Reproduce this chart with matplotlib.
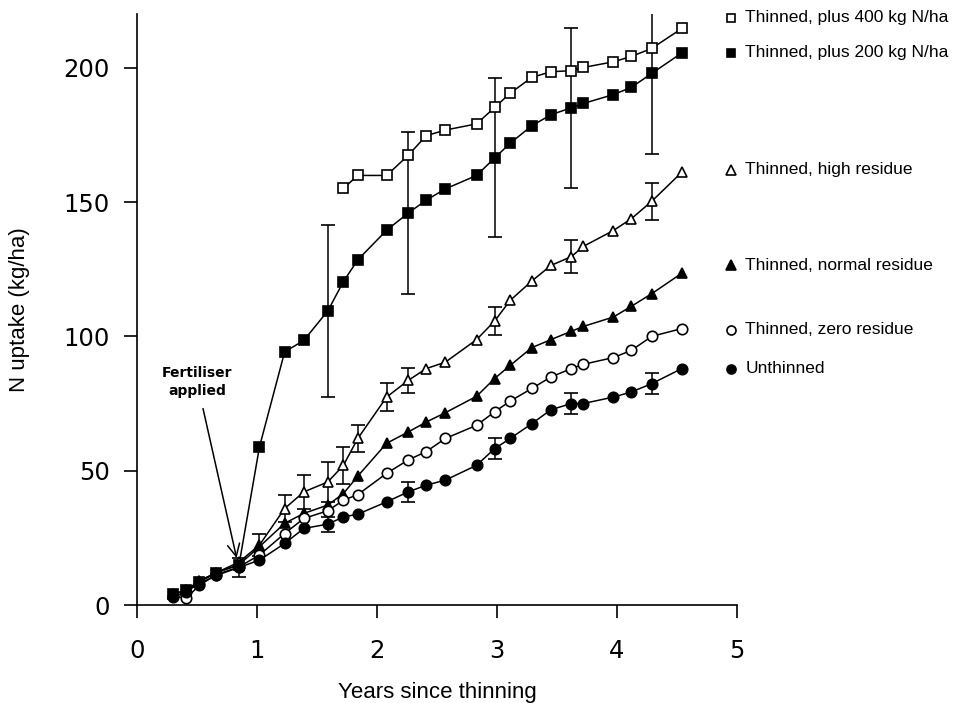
import numpy as np
import matplotlib
matplotlib.use("Agg")
import matplotlib.pyplot as plt

# Years since thinning (shared sampling dates)
years = [0.30, 0.41, 0.52, 0.66, 0.85, 1.02, 1.23, 1.39, 1.59, 1.72, 1.84, 2.08, 2.26,
         2.41, 2.57, 2.83, 2.98, 3.11, 3.29, 3.45, 3.62, 3.72, 3.97, 4.12, 4.29, 4.54]

# N uptake (kg/ha)
n400 = [np.nan] * 9 + [155.1, 159.9, 159.9, 167.4, 174.7, 176.8, 179.1, 185.2, 190.5,
                       196.4, 198.5, 198.9, 200.1, 202.2, 204.2, 207.2, 214.6]
n200 = [4, 5.5, 8.5, 12, 15, 58.8, 94.2, 98.5, 109.5, 120.4, 128.5, 139.5, 145.9,
        150.7, 154.9, 159.9, 166.4, 171.9, 178.4, 182.5, 185.1, 186.7, 190, 192.7, 197.9, 205.5]
high = [4, 5.5, 9, 12, 16, 22.3, 35.9, 42.1, 45.8, 52, 62, 77.4, 83.6,
        88, 90.4, 98.8, 105.7, 113.4, 120.6, 126.4, 129.7, 133.5, 139.4, 143.8, 150.3, 161.1]
normal = [4, 5.5, 9, 12, 15, 21.7, 30.4, 34.1, 37.2, 41.5, 48, 60.2, 64.4,
          68.1, 71.6, 77.7, 84.3, 89.2, 95.8, 98.8, 101.9, 103.7, 107.2, 111.2, 115.9, 123.5]
zero = [3.5, 2.5, 7.4, 11.2, 14.2, 18.6, 26.6, 32.2, 35.1, 39, 41.1, 49, 54,
        57.1, 62, 66.9, 71.9, 75.9, 80.6, 84.9, 88, 89.6, 92.1, 94.8, 100, 102.9]
unthinned = [3, 5, 8, 11, 14, 16.7, 22.9, 28.5, 30.1, 32.8, 33.8, 38.4, 42.1,
             44.6, 46.5, 52, 58.2, 62, 67.5, 72.7, 75, 75, 77.4, 79.3, 82.4, 88]

# standard errors (nan = no bar shown)
na = np.nan
err200 = [na] * 8 + [32, na, na, na, 30, na, na, na, 29.6, na, na, na, 29.8, na, na, na, 30, na]
err_high = [na] * 5 + [4, 5, 6.2, 7.5, 6.8, 5, 5.2, 4.8, na, na, na, 5.2, na, na, na, 6, na, na, na, 6.8, na]
err_unth = [na] * 4 + [3.5, na, na, na, 2.8, na, na, na, 3.7, na, na, na, 3.9, na, na, na, 3.9, na, na, na, 3.8, na]

labels = ["Thinned, plus 400 kg N/ha", "Thinned, plus 200 kg N/ha", "Thinned, high residue",
          "Thinned, normal residue", "Thinned, zero residue", "Unthinned"]

series = [
    (n400, None, "s", "white", 6.5, 4),
    (n200, err200, "s", "black", 6.5, 0),
    (high, err_high, "^", "white", 7.5, 1),
    (normal, None, "^", "black", 7.5, 3),
    (zero, None, "o", "white", 7.5, -0.5),
    (unthinned, err_unth, "o", "black", 7.5, 0),
]

fig = plt.figure(figsize=(9.59, 7.03), dpi=100)
ax = fig.add_axes([0.1429, 0.1394, 0.6256, 0.8407])

x = np.array(years)
for (vals, err, mk, fc, ms, off), lab in zip(series, labels):
    y = np.array(vals, dtype=float)
    ax.errorbar(x, y, yerr=None if err is None else np.array(err, dtype=float),
                color="black", lw=1.1, marker=mk, ms=ms, mfc=fc, mec="black", mew=1.2,
                capsize=5, elinewidth=1.1, capthick=1.1, zorder=3)
    # label at the right, level with the last point
    ly = y[-1] + off
    ax.plot([4.95], [ly], marker=mk, ms=ms - 1, mfc=fc, mec="black", mew=1.2,
            ls="none", clip_on=False)
    ax.text(5.07, ly, lab, fontsize=12.5, family="Liberation Sans", va="center",
            ha="left", clip_on=False)

ax.annotate("Fertiliser\napplied", xy=(0.83, 17.5), xytext=(0.50, 83),
            ha="center", va="center", fontsize=10, fontweight="bold",
            linespacing=1.3,
            arrowprops=dict(arrowstyle="->", color="black", lw=1.1,
                            mutation_scale=22, shrinkA=6, shrinkB=0))

ax.set_xlim(0, 5)
ax.set_ylim(0, 220)
ax.set_xticks([0, 1, 2, 3, 4, 5])
ax.set_yticks([0, 50, 100, 150, 200])
ax.spines["top"].set_visible(False)
ax.spines["right"].set_visible(False)
ax.spines["left"].set_linewidth(1.2)
ax.spines["bottom"].set_linewidth(1.2)
ax.tick_params(direction="out", length=9.5, width=1.2, labelsize=17.5)
ax.tick_params(axis="x", pad=15)
ax.tick_params(axis="y", pad=10)
ax.set_xlabel("Years since thinning", fontsize=16, family="Liberation Sans", labelpad=14)
ax.set_ylabel("N uptake (kg/ha)", fontsize=16, family="Liberation Sans", labelpad=24)

fig.savefig("out.png", dpi=100)
